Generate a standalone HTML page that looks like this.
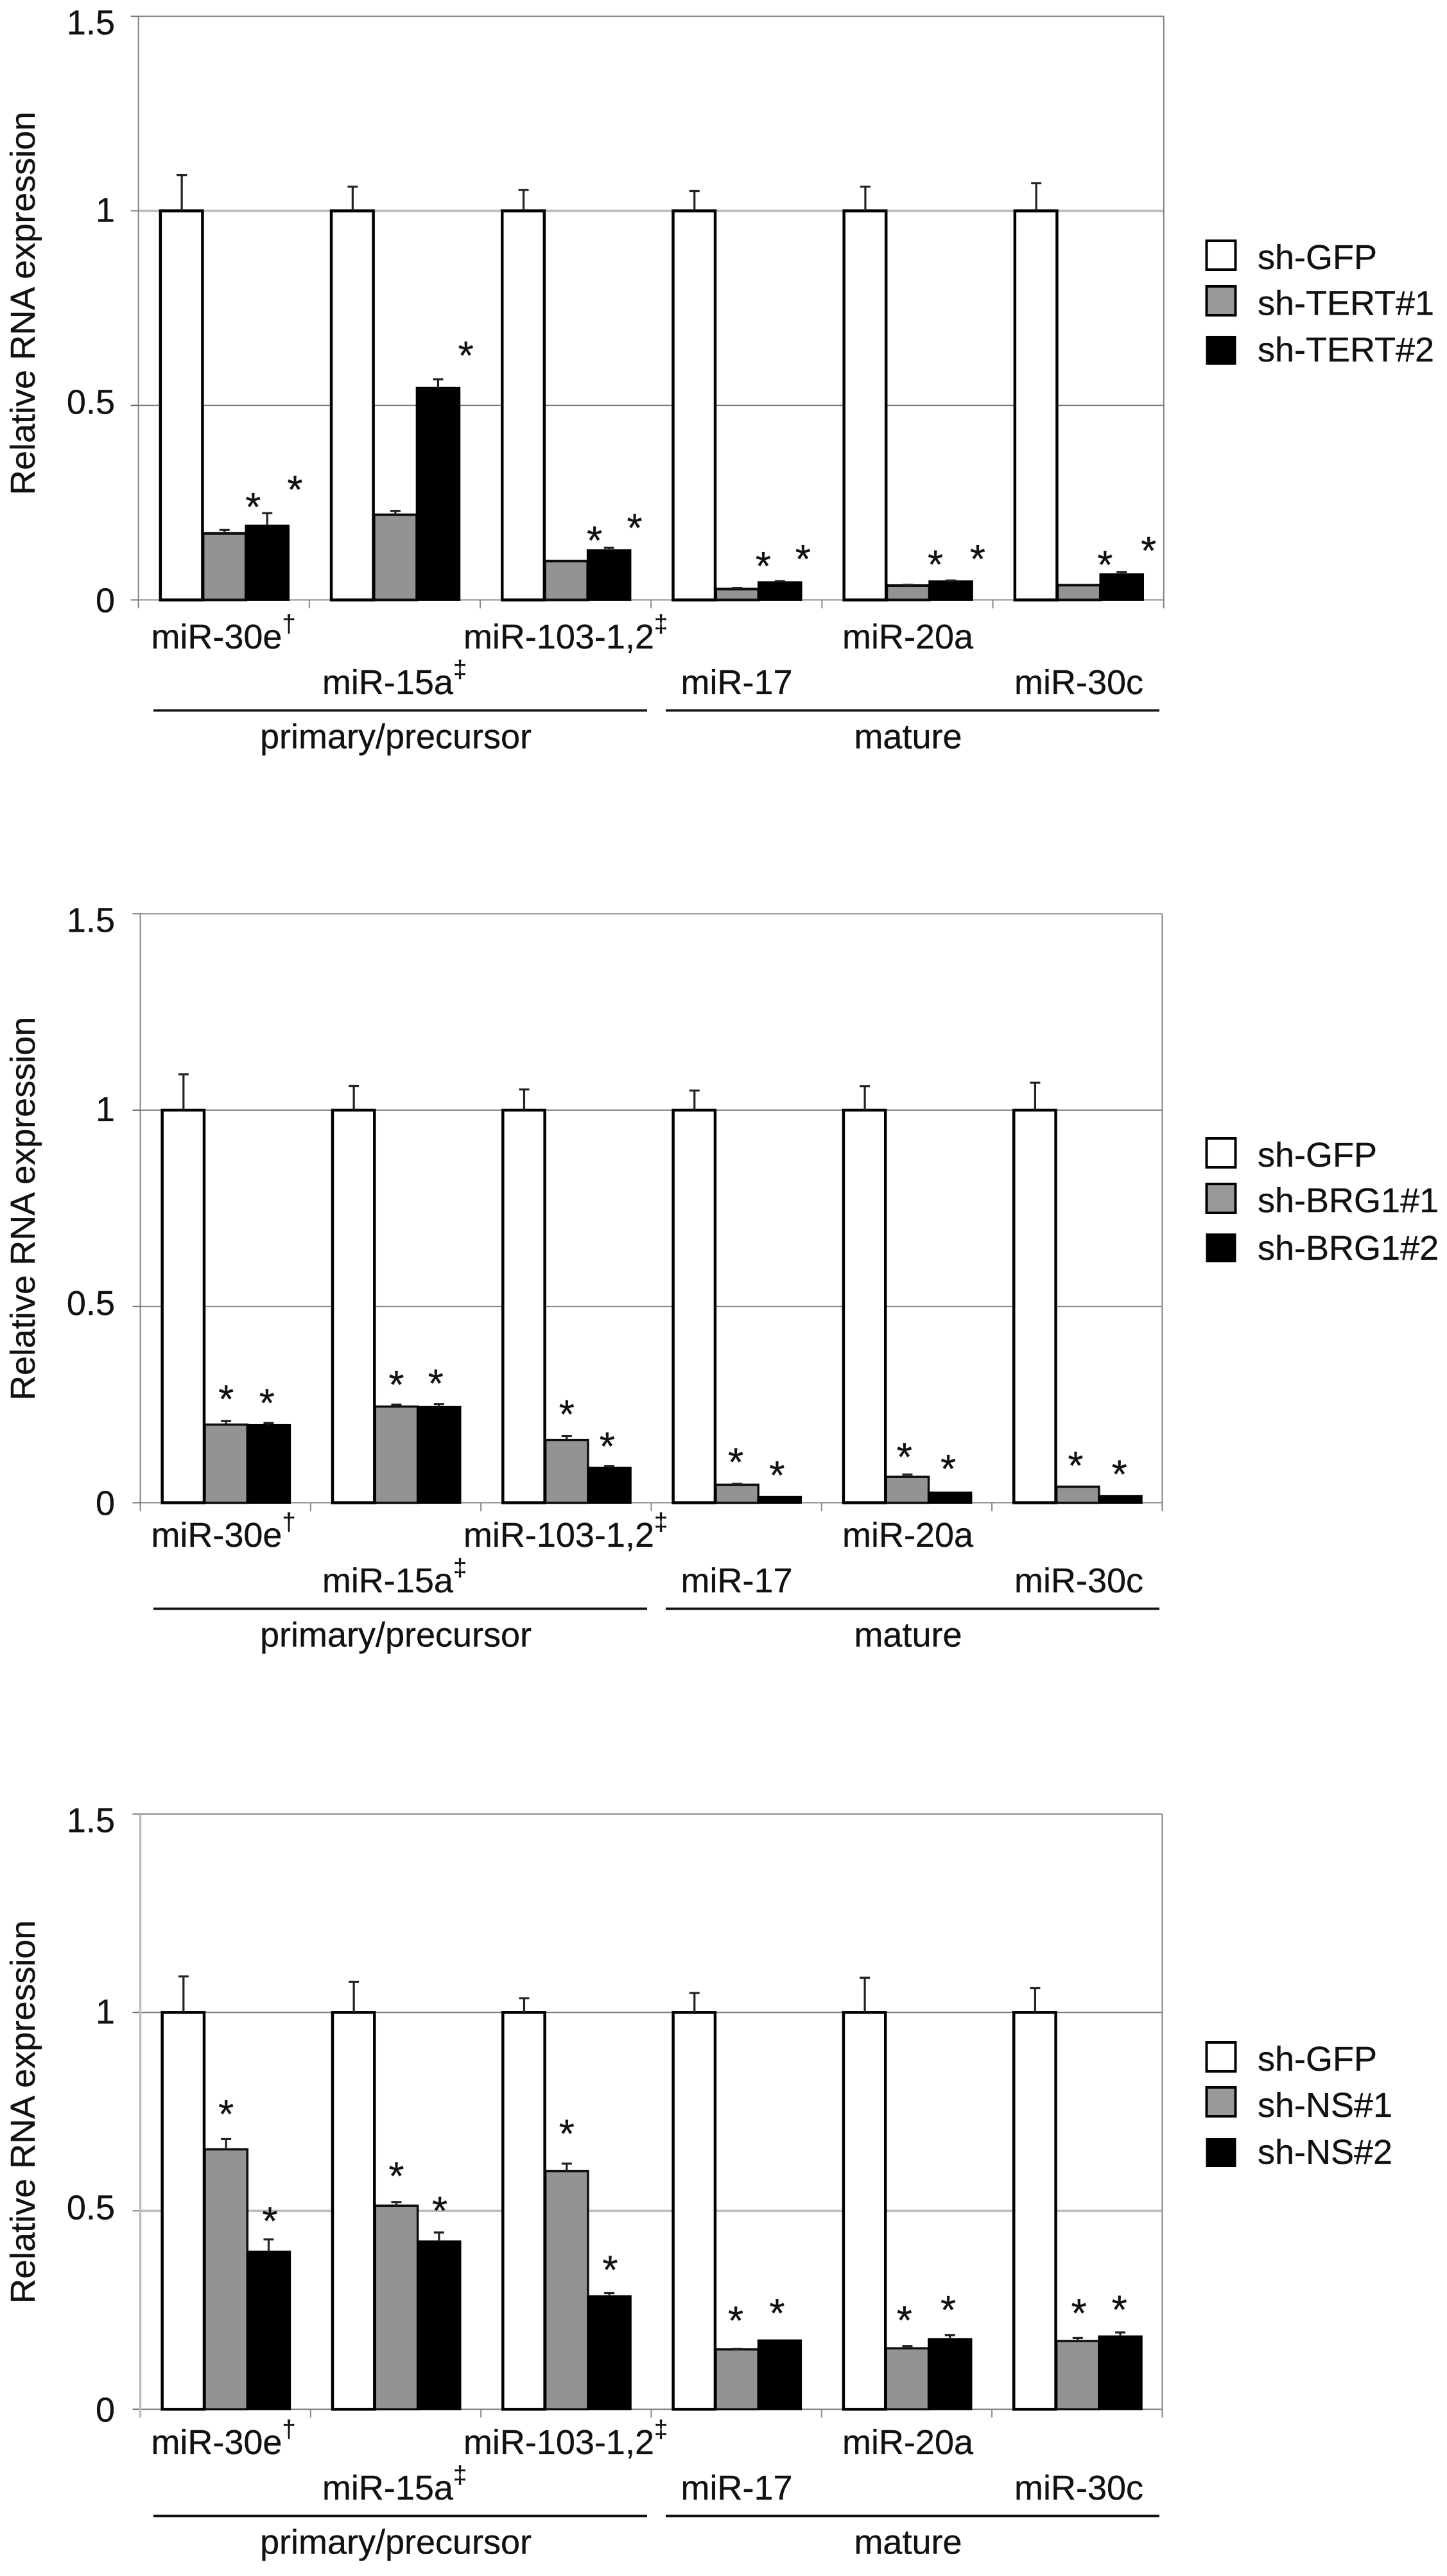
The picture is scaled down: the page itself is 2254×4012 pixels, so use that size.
<!DOCTYPE html>
<html lang="en">
<head>
<meta charset="utf-8">
<title>Relative RNA expression after knockdown</title>
<style>
html,body{margin:0;padding:0;background:#fff;width:2254px;height:4012px;overflow:hidden}
svg{display:block;position:absolute;left:0;top:0}
text{font-family:"Liberation Sans",Arial,sans-serif;fill:#111;stroke:#111;stroke-width:0.35}
</style>
</head>
<body>
<svg id="figure" xmlns="http://www.w3.org/2000/svg" width="2254" height="4012" viewBox="0 0 2254 4012"></svg>
<script>
const categories = ['miR-30e','miR-15a','miR-103-1,2','miR-17','miR-20a','miR-30c'];
const categoryMarks = ['†','‡','‡','','',''];
const groupNames = ['primary/precursor','mature'];
const tickLabels = ['0','0.5','1','1.5'];
const tickValues = [0,0.5,1,1.5];

const tertLegend = ['sh-GFP','sh-TERT#1','sh-TERT#2'];
const tertControl = [1,1,1,1,1,1];
const tertControlErr = [0.092,0.062,0.054,0.051,0.062,0.071];
const tert1 = [0.171,0.219,0.1,0.028,0.037,0.038];
const tert1Err = [0.009,0.01,0,0.003,0.002,0];
const tert2 = [0.191,0.545,0.128,0.0455,0.048,0.066];
const tert2Err = [0.032,0.022,0.006,0.003,0.002,0.006];
const tert1StarLift = [0.0665,null,0.0606,0.064,0.06,0.06];
const tert1StarShift = [0.67,0,0.66,0.61,0.64,0.61];
const tert2StarLift = [0.068,0.069,0.059,0.064,0.0625,0.062];
const tert2StarShift = [0.65,0.65,0.6,0.54,0.63,0.63];

const brgLegend = ['sh-GFP','sh-BRG1#1','sh-BRG1#2'];
const brgControl = [1,1,1,1,1,1];
const brgControlErr = [0.0914,0.0613,0.0526,0.05,0.061,0.07];
const brg1 = [0.199,0.245,0.16,0.046,0.066,0.041];
const brg1Err = [0.009,0.005,0.01,0.002,0.006,0];
const brg2 = [0.198,0.244,0.089,0.015,0.026,0.0175];
const brg2Err = [0.005,0.0075,0.004,0,0,0];
const brg1StarLift = [0.0636,0.058,0.063,0.063,0.052,0.0616];
const brg1StarShift = [0,0,0,-0.03,-0.07,-0.05];
const brg2StarLift = [0.0586,0.06,0.058,0.0626,0.068,0.0626];
const brg2StarShift = [-0.04,-0.075,-0.05,-0.06,-0.04,-0.02];

const nsLegend = ['sh-GFP','sh-NS#1','sh-NS#2'];
const nsControl = [1,1,1,1,1,1];
const nsControlErr = [0.091,0.0774,0.036,0.049,0.0874,0.0612];
const ns1 = [0.655,0.513,0.6,0.151,0.1535,0.172];
const ns1Err = [0.026,0.009,0.019,0.001,0.006,0.0075];
const ns2 = [0.397,0.423,0.285,0.1735,0.177,0.1835];
const ns2Err = [0.031,0.0225,0.0075,0,0.01,0.01];
const ns1StarLift = [0.0706,0.0735,0.0826,0.079,0.0725,0.07];
const ns1StarShift = [0,0,0,-0.03,-0.07,0.03];
const ns2StarLift = [0.054,0.0625,0.066,0.0765,0.071,0.065];
const ns2StarShift = [0.03,0.02,0.02,-0.06,-0.04,-0.02];

const SVG_NS = 'http://www.w3.org/2000/svg';
const figure = document.getElementById('figure');

function make(tag, attrs, parent) {
  const node = document.createElementNS(SVG_NS, tag);
  for (const key in attrs) node.setAttribute(key, attrs[key]);
  parent.appendChild(node);
  return node;
}

function drawPanel(p) {
  const panel = make('g', {}, figure);
  
  

  const yScale = v => p.y0 - v * p.unit;
  const catWidth = (p.right - p.left) / categories.length;
  const barWidth = catWidth / 4;
  const barX = (c, s) => p.left + c * catWidth + barWidth / 2 + s * barWidth + 1;
  const barCentre = (c, s) => barX(c, s) + barWidth / 2;

  tickValues.forEach((v, i) => {
    const thick = p.thickGrid === v;
    const grid = make('line', {x1: p.left, x2: p.right, y1: yScale(v), y2: yScale(v), stroke: thick ? '#bdbdbd' : '#777', 'stroke-width': thick ? 3.5 : 1.8}, panel);
    
    
    const tick = make('line', {x1: p.left - 12, x2: p.left, y1: yScale(v), y2: yScale(v), stroke: '#666', 'stroke-width': 1.8}, panel);
    
    
    const label = make('text', {x: 179, y: yScale(v) + [19, 13, 17, 28][i], 'font-size': 54, 'text-anchor': 'end'}, panel);
    label.textContent = tickLabels[i];
    
    
  });

  const yAxis = make('line', {x1: p.left, x2: p.left, y1: yScale(1.5), y2: yScale(0) + 13, stroke: p.thickAxis ? '#bdbdbd' : '#777', 'stroke-width': p.thickAxis ? 3.5 : 1.8}, panel);
  
  
  const rightEdge = make('line', {x1: p.right, x2: p.right, y1: yScale(1.5), y2: yScale(0) + 13, stroke: '#777', 'stroke-width': 1.8}, panel);
  
  

  for (let c = 1; c < categories.length; c++) {
    const xt = p.left + c * catWidth;
    const tick = make('line', {x1: xt, x2: xt, y1: yScale(0), y2: yScale(0) + 13, stroke: '#888', 'stroke-width': 2}, panel);
    
    
  }

  const title = make('text', {transform: 'translate(54,' + p.titleY + ') rotate(-90)', 'font-size': 54}, panel);
  title.textContent = 'Relative RNA expression';
  
  

  categories.forEach((cat, c) => {
    const gray = make('rect', {x: barX(c, 1), y: yScale(p.first[c]), width: barWidth, height: p.first[c] * p.unit, fill: '#939393', stroke: '#0c0c0c', 'stroke-width': p.grayStroke}, panel);
    
    
    const black = make('rect', {x: barX(c, 2), y: yScale(p.second[c]), width: barWidth, height: p.second[c] * p.unit, fill: '#000', stroke: '#000', 'stroke-width': 3}, panel);
    
    
    const white = make('rect', {x: barX(c, 0), y: yScale(p.control[c]), width: barWidth - 1, height: p.control[c] * p.unit, fill: '#fff', stroke: '#000', 'stroke-width': 4.5}, panel);
    
    

    [[p.control, p.controlErr], [p.first, p.firstErr], [p.second, p.secondErr]].forEach((pair, s) => {
      const err = pair[1][c];
      if (!err) return;
      const val = pair[0][c];
      const xm = barCentre(c, s);
      const stem = make('line', {x1: xm, x2: xm, y1: yScale(val), y2: yScale(val + err), stroke: '#222', 'stroke-width': 3.2}, panel);
      
      
      const cap = make('line', {x1: xm - 8, x2: xm + 8, y1: yScale(val + err), y2: yScale(val + err), stroke: '#222', 'stroke-width': 3.2}, panel);
      
      
    });

    [[p.first, p.firstErr, p.firstLift, p.firstShift, 1], [p.second, p.secondErr, p.secondLift, p.secondShift, 2]].forEach(row => {
      const lift = row[2][c];
      if (lift === null) return;
      const level = row[0][c] + row[1][c] + lift;
      const star = make('text', {x: barCentre(c, row[4]) + row[3][c] * barWidth, y: yScale(level) + 26, 'font-size': 62, 'text-anchor': 'middle', fill: '#000'}, panel);
      star.textContent = '*';
      
      
    });

    const lowRow = c === 1 || c === 3 || c === 5;
    const catLabel = make('text', {x: 348 + 266.5 * c, y: p.labelY + (lowRow ? 71 : 0), 'font-size': 54, 'text-anchor': 'middle'}, panel);
    catLabel.textContent = cat;
    
    
    if (categoryMarks[c]) {
      const mark = make('tspan', {'font-size': 38, dy: -26}, catLabel);
      mark.textContent = categoryMarks[c];
    }
  });

  groupNames.forEach((name, g) => {
    const x1 = g === 0 ? 239 : 1037;
    const x2 = g === 0 ? 1008 : 1806;
    const rule = make('line', {x1: x1, x2: x2, y1: p.labelY + 96.5, y2: p.labelY + 96.5, stroke: '#111', 'stroke-width': 3.8}, panel);
    
    
    const groupLabel = make('text', {x: (x1 + x2) / 2 - 7, y: p.labelY + 155.5, 'font-size': 54, 'text-anchor': 'middle'}, panel);
    groupLabel.textContent = name;
    
    
  });

  const fills = ['#fff', '#999', '#000'];
  p.legend.forEach((name, i) => {
    const box = make('rect', {x: 1879.5, y: p.legendBoxY[i], width: 45, height: i === 2 ? 43 : 45, fill: fills[i], stroke: '#000', 'stroke-width': i === 2 ? 2 : 4}, panel);
    
    
    const entry = make('text', {x: 1959, y: p.legendTextY[i], 'font-size': 54}, panel);
    entry.textContent = name;
    
    
  });
}

drawPanel({name: 'tert', left: 215.6, right: 1812.8, y0: 934.4, unit: 606, thickGrid: 1, thickAxis: false, grayStroke: 4, titleY: 771, labelY: 1010, legend: tertLegend, legendBoxY: [375, 446, 524], legendTextY: [419, 490.5, 563], control: tertControl, controlErr: tertControlErr, first: tert1, firstErr: tert1Err, second: tert2, secondErr: tert2Err, firstLift: tert1StarLift, firstShift: tert1StarShift, secondLift: tert2StarLift, secondShift: tert2StarShift});
drawPanel({name: 'brg1', left: 218.5, right: 1810.4, y0: 2340.5, unit: 611.5, thickGrid: null, thickAxis: false, grayStroke: 3.5, titleY: 2181, labelY: 2409, legend: brgLegend, legendBoxY: [1773, 1844, 1922], legendTextY: [1817, 1888, 1962], control: brgControl, controlErr: brgControlErr, first: brg1, firstErr: brg1Err, second: brg2, secondErr: brg2Err, firstLift: brg1StarLift, firstShift: brg1StarShift, secondLift: brg2StarLift, secondShift: brg2StarShift});
drawPanel({name: 'ns', left: 218.5, right: 1810.4, y0: 3752.3, unit: 618, thickGrid: 0.5, thickAxis: true, grayStroke: 3.5, titleY: 3588, labelY: 3822, legend: nsLegend, legendBoxY: [3181, 3251, 3331], legendTextY: [3225, 3297, 3370], control: nsControl, controlErr: nsControlErr, first: ns1, firstErr: ns1Err, second: ns2, secondErr: ns2Err, firstLift: ns1StarLift, firstShift: ns1StarShift, secondLift: ns2StarLift, secondShift: ns2StarShift});
</script>
</body>
</html>
